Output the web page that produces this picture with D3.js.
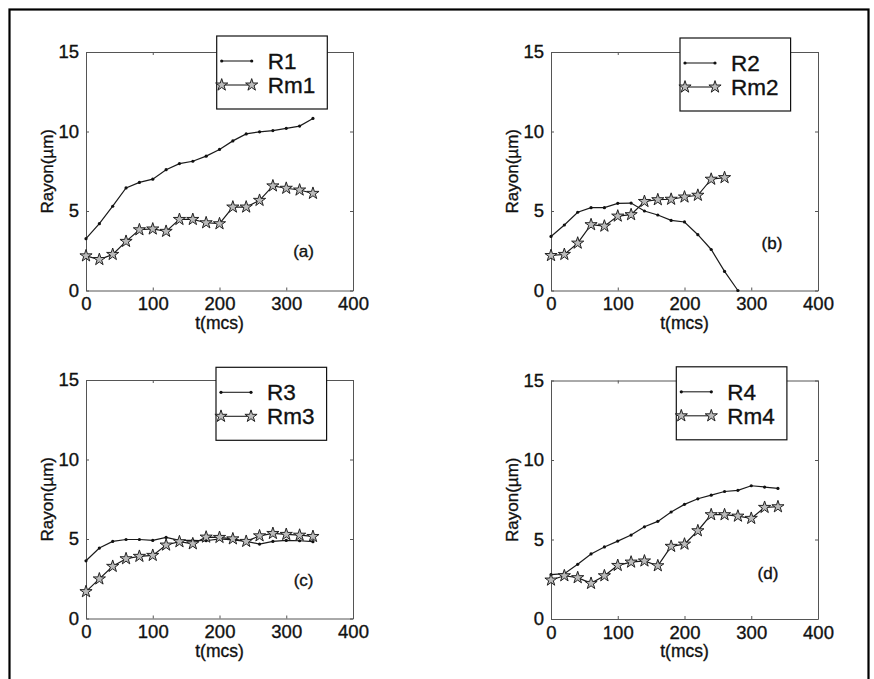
<!DOCTYPE html>
<meta charset="utf-8">
<style>
body { margin: 0; background: #fff; }
svg text { font-family: "Liberation Sans", Arial, sans-serif; fill: #111; stroke: #111; stroke-width: 0.35px; }
.axis path, .axis line { stroke: #555; }
</style>
<svg width="874" height="679"></svg>
<script src="https://d3js.org/d3.v7.min.js"></script>
<script>

// time steps (mcs)
var t = [0, 20, 40, 60, 80, 100, 120, 140, 160, 180, 200, 220, 240, 260, 280, 300, 320, 340];

var R1  = [3.26, 4.2, 5.3, 6.45, 6.8, 7.0, 7.6, 7.98, 8.13, 8.45, 8.87, 9.41, 9.85, 9.98, 10.06, 10.2, 10.34, 10.82];
var Rm1 = [2.18, 1.95, 2.27, 3.09, 3.82, 3.87, 3.72, 4.47, 4.47, 4.26, 4.2, 5.25, 5.25, 5.67, 6.58, 6.43, 6.32, 6.11];

var R2  = [3.4, 4.12, 4.92, 5.21, 5.21, 5.48, 5.5, 5.0, 4.75, 4.41, 4.31, 3.51, 2.58, 1.2, 0];
var Rm2 = [2.2, 2.27, 2.98, 4.14, 4.05, 4.68, 4.77, 5.6, 5.71, 5.74, 5.88, 5.99, 7.0, 7.1];

var R3  = [3.63, 4.43, 4.85, 4.97, 4.97, 4.91, 5.1, 4.91, 4.91, 4.89, 5.01, 4.95, 4.85, 4.68, 4.85, 4.91, 4.89, 4.83];
var Rm3 = [1.69, 2.49, 3.28, 3.76, 3.91, 3.97, 4.62, 4.83, 4.7, 5.12, 5.1, 5.01, 4.85, 5.2, 5.35, 5.29, 5.24, 5.16];

var R4  = [2.79, 2.85, 3.44, 4.09, 4.53, 4.9, 5.28, 5.8, 6.14, 6.73, 7.21, 7.56, 7.79, 8.02, 8.09, 8.38, 8.3, 8.21];
var Rm4 = [2.45, 2.72, 2.6, 2.24, 2.72, 3.37, 3.58, 3.65, 3.35, 4.57, 4.71, 5.55, 6.56, 6.56, 6.47, 6.33, 7.02, 7.06];

var xTicks = [0, 100, 200, 300, 400];
var yTicks = [0, 5, 10, 15];

var panels = [
  {r: R1, rm: Rm1, names: ["R1", "Rm1"], tag: "(a)", tagAt: [326, 2.08], left: 86,  top: 52,  leg: [130.7, -16]},
  {r: R2, rm: Rm2, names: ["R2", "Rm2"], tag: "(b)", tagAt: [331, 2.6],  left: 551, top: 52,  leg: [129, -14]},
  {r: R3, rm: Rm3, names: ["R3", "Rm3"], tag: "(c)", tagAt: [326, 2.05], left: 86,  top: 380, leg: [130, -12.7]},
  {r: R4, rm: Rm4, names: ["R4", "Rm4"], tag: "(d)", tagAt: [325, 2.5],  left: 551, top: 380.5, leg: [125.3, -13.7]}
];

var W = 267, H = 238.5;

var svg = d3.select("svg");

// outer frame
svg.append("rect")
    .attr("x", 9.5).attr("y", 9.5)
    .attr("width", 859).attr("height", 700)
    .attr("fill", "none")
    .attr("stroke", "#000")
    .attr("stroke-width", 2.2);

var star = d3.symbol().type(d3.symbolStar).size(46);

panels.forEach(function(p) {
  var x = d3.scaleLinear().domain([0, 400]).range([0, W]);
  var y = d3.scaleLinear().domain([0, 15]).range([H, 0]);

  var g = svg.append("g").attr("transform", "translate(" + p.left + "," + p.top + ")");

  // box + inward ticks on four sides
  g.append("g").attr("class", "axis")
      .attr("transform", "translate(0," + H + ")")
      .call(d3.axisBottom(x).tickValues(xTicks).tickSizeInner(-3).tickSizeOuter(0).tickPadding(6))
      .call(function(a) { a.selectAll("text").attr("font-size", 18.5).attr("dy", "0.75em"); });
  g.append("g").attr("class", "axis")
      .call(d3.axisTop(x).tickValues(xTicks).tickSizeInner(-3).tickSizeOuter(0).tickFormat(""));
  g.append("g").attr("class", "axis")
      .call(d3.axisLeft(y).tickValues(yTicks).tickSizeInner(-3).tickSizeOuter(0).tickPadding(7))
      .call(function(a) { a.selectAll("text").attr("font-size", 18.5); });
  g.append("g").attr("class", "axis")
      .attr("transform", "translate(" + W + ",0)")
      .call(d3.axisRight(y).tickValues(yTicks).tickSizeInner(-3).tickSizeOuter(0).tickFormat(""));
  g.selectAll(".axis text").attr("font-family", "Liberation Sans, Arial, sans-serif").attr("fill", "#111");
  g.selectAll(".axis .domain").attr("stroke", "#555");

  // axis titles
  g.append("text")
      .attr("x", W / 2).attr("y", H + 38)
      .attr("text-anchor", "middle")
      .attr("font-size", 17.5)
      .text("t(mcs)");
  g.append("text")
      .attr("transform", "translate(-33," + (H / 2) + ") rotate(-90)")
      .attr("text-anchor", "middle")
      .attr("font-size", 17)
      .text("Rayon(\u00b5m)");

  var line = d3.line()
      .x(function(d, i) { return x(t[i]); })
      .y(function(d) { return y(d); });

  // R series: thin line with small dots
  g.append("path").datum(p.r)
      .attr("d", line)
      .attr("fill", "none").attr("stroke", "#1a1a1a").attr("stroke-width", 1.2);
  g.selectAll(".dot").data(p.r).enter().append("circle")
      .attr("class", "dot")
      .attr("cx", function(d, i) { return x(t[i]); })
      .attr("cy", function(d) { return y(d); })
      .attr("r", 1.6)
      .attr("fill", "#111");

  // Rm series: line with star markers
  g.append("path").datum(p.rm)
      .attr("d", line)
      .attr("fill", "none").attr("stroke", "#1a1a1a").attr("stroke-width", 1.2);
  g.selectAll(".star").data(p.rm).enter().append("path")
      .attr("class", "star")
      .attr("transform", function(d, i) { return "translate(" + x(t[i]) + "," + y(d) + ")"; })
      .attr("d", star)
      .attr("fill", "#bbb").attr("stroke", "#222").attr("stroke-width", 1);

  // panel tag
  g.append("text")
      .attr("x", x(p.tagAt[0])).attr("y", y(p.tagAt[1]))
      .attr("text-anchor", "middle")
      .attr("font-size", 17)
      .text(p.tag);

  // legend
  var lg = g.append("g").attr("transform", "translate(" + p.leg[0] + "," + p.leg[1] + ")");
  lg.append("rect")
      .attr("width", 110.6).attr("height", 73)
      .attr("fill", "#fff").attr("stroke", "#111").attr("stroke-width", 1.2);
  [25, 49].forEach(function(ly, k) {
    lg.append("line")
        .attr("x1", 5).attr("x2", 35).attr("y1", ly).attr("y2", ly)
        .attr("stroke", "#222").attr("stroke-width", 1.1);
    [5, 35].forEach(function(lx) {
      if (k === 0) {
        lg.append("circle").attr("cx", lx).attr("cy", ly).attr("r", 1.6).attr("fill", "#111");
      } else {
        lg.append("path").attr("transform", "translate(" + lx + "," + ly + ")")
            .attr("d", star).attr("fill", "#bbb").attr("stroke", "#222").attr("stroke-width", 1);
      }
    });
    lg.append("text")
        .attr("x", 51).attr("y", ly + 8)
        .attr("font-size", 22.5)
        .text(p.names[k]);
  });
});

</script>
